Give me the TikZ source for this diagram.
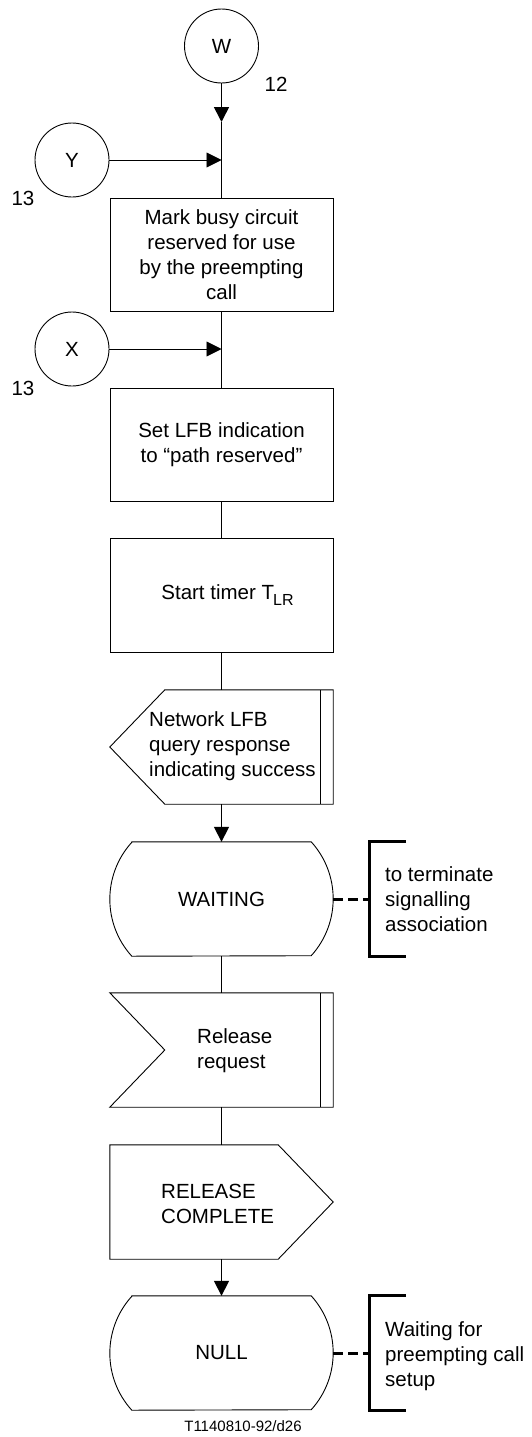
\documentclass[tikz,border=0pt]{standalone}
\usepackage{fontspec}
\setmainfont{Liberation Sans}
\usetikzlibrary{arrows.meta,positioning,calc}

\tikzset{
  flow/.style={line width=1.6pt},
  outline/.style={line width=0.9pt},
  connector/.style={draw, circle, outline, minimum size=74pt, inner sep=0pt},
  taskbox/.style={draw, rectangle, outline, minimum width=223pt, minimum height=113pt, align=center, inner sep=0pt},
  holder/.style={rectangle, minimum width=223pt, minimum height=114pt, inner sep=0pt},
  note/.style={align=left, anchor=west, inner sep=0pt},
  bracket/.style={line width=3pt},
  dashline/.style={line width=3pt, dash pattern=on 10pt off 5pt},
}

\begin{document}
\begin{tikzpicture}[x=1pt, y=-1pt, >={Triangle[length=15pt,width=15pt]}, font=\fontsize{20.5}{25}\selectfont]
        \useasboundingbox (0,0) rectangle (532,1437);

        % Connectors
        \node[connector] (W) at (221.5,46) {W};
        \node (n12) at (276,84) {12};
        \node[connector] (Y) at (72,160) {Y};
        \node (n13a) at (23,198) {13};
        \node[connector] (X) at (72,349) {X};
        \node (n13b) at (23,388) {13};

        % Tasks
        \node[taskbox] (mark) at (221.5,254.5) {Mark busy circuit\\reserved for use\\by the preempting\\call};
        \node[taskbox] (setlfb) at (221.5,444.5) {Set LFB indication\\to “path reserved”};
        \node[taskbox, minimum height=114pt] (timer) at (221.5,595) {\hspace*{12pt}Start timer T\kern-1pt\raisebox{-6pt}{\fontsize{16}{16}\selectfont LR}};

        % Signals and states
        \node[holder] (query) at (221.5,747) {};
        \node[note] (querytext) at (149,746) {Network LFB\\query response\\indicating success};
        \node[holder] (wait) at (221.5,899) {WAITING};
        \node[holder] (relreq) at (221.5,1050) {};
        \node[note] (relreqtext) at (197,1051) {Release\\request};
        \node[holder] (relcomp) at (221.5,1202) {};
        \node[note] (relcomptext) at (161,1204) {RELEASE\\COMPLETE};
        \node[holder] (null) at (221.5,1353) {NULL};

        % Comments
        \node[note] (waitnote) at (385,899) {to terminate\\signalling\\association};
        \node[note] (nullnote) at (385,1356) {Waiting for\\preempting call\\setup};
        \node[font=\fontsize{15}{18}\selectfont] (caption) at (243,1426) {T1140810-92/d26};

        % State outlines
        \foreach \n in {wait,null} {
            \draw[outline] ($(\n.north west)+(22,0)$) -- ($(\n.north east)+(-22,0)$)
                arc[start angle=-42.2, end angle=42.2, radius=84.8]
                -- ($(\n.south west)+(22,0)$)
                arc[start angle=137.8, end angle=222.2, radius=84.8] -- cycle;
            \coordinate (\n b) at ($(\n.east)+(36,0)$);
            \draw[dashline] (\n) -- (\n b);
            \draw[bracket] ($(\n.north east)+(73,0)$) -- ($(\n.north east)+(36,0)$)
                -- ($(\n.south east)+(36,0)$) -- ($(\n.south east)+(73,0)$);
        }

        % Signal outlines
        \draw[outline] ($(query.north west)+(55,0)$) -- (query.north east) -- (query.south east)
            -- ($(query.south west)+(55,0)$) -- (query.west) -- cycle;
        \draw[outline] ($(query.north east)+(-13,0)$) -- ($(query.south east)+(-13,0)$);
        \draw[outline] (relreq.north west) -- (relreq.north east) -- (relreq.south east)
            -- (relreq.south west) -- ($(relreq.west)+(55,0)$) -- cycle;
        \draw[outline] ($(relreq.north east)+(-13,0)$) -- ($(relreq.south east)+(-13,0)$);
        \draw[outline] (relcomp.north west) -- ($(relcomp.north east)+(-55,0)$) -- (relcomp.east)
            -- ($(relcomp.south east)+(-55,0)$) -- (relcomp.south west) -- cycle;

        % Flow lines
        \coordinate (jw) at (221.5,122);
        \coordinate (jy) at (221.5,160);
        \coordinate (jx) at (221.5,349);
        \draw[flow,->] (W) -- (jw);
        \draw[flow] (jw) -- (mark);
        \draw[outline,->] (Y) -- (jy);
        \draw[flow] (mark) -- (setlfb);
        \draw[outline,->] (X) -- (jx);
        \draw[flow] (setlfb) -- (timer);
        \draw[flow] (timer) -- (query);
        \draw[flow,->] (query) -- (wait);
        \draw[flow] (wait) -- (relreq);
        \draw[flow] (relreq) -- (relcomp);
        \draw[flow,->] (relcomp) -- (null);
\end{tikzpicture}
\end{document}
